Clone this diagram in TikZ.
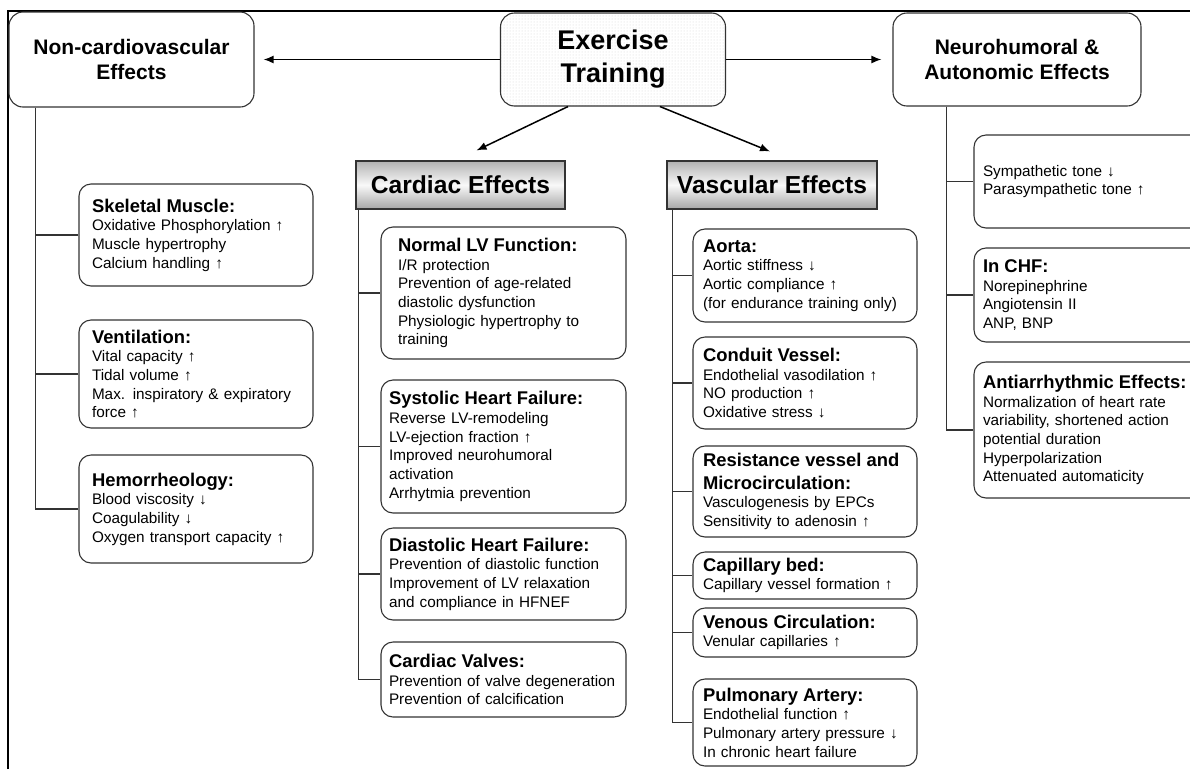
\documentclass[tikz,border=0pt]{standalone}
\usepackage{fontspec}
\setmainfont{Liberation Sans}
\usetikzlibrary{arrows.meta,patterns}

\newcommand{\boxhead}[1]{{\fontsize{18.4}{20}\selectfont\bfseries #1}}

\tikzset{
  effect/.style={draw=black!80, line width=1.1pt, rounded corners=12pt, align=left,
    font=\fontsize{15.3}{18.7}\selectfont, inner ysep=2pt},
  leftbox/.style={effect, text width=208pt, inner xsep=13pt},
  cardbox/.style={effect, text width=229pt, inner xsep=8pt},
  vascbox/.style={effect, text width=204pt, inner xsep=10pt},
  neurobox/.style={effect, text width=210pt, inner xsep=9pt},
  topbox/.style={draw=black!80, line width=1.1pt, rounded corners=14pt, align=center,
    font=\fontsize{21}{25}\selectfont\bfseries},
  headbox/.style={draw=black!80, line width=1.1pt, top color=gray!60, bottom color=gray!70,
    middle color=gray!5, font=\fontsize{24.6}{28}\selectfont\bfseries},
  link/.style={black!80, line width=1.1pt},
  arr/.style={black, line width=1.5pt, -{Latex[length=10pt,width=8pt]}}
}

\begin{document}
\begin{tikzpicture}[x=1pt,y=-1pt]
  \useasboundingbox (0,0) rectangle (1190,769);
  \clip (0,0) rectangle (1190,769);
  \draw[line width=1.5pt] (8,769) -- (8,11) -- (1190,11);

  % top row
  \node[topbox, pattern=dots, pattern color=gray!35, font=\fontsize{27}{33}\selectfont\bfseries,
    minimum width=225pt, minimum height=93pt] (ex) at (613,59.5) {Exercise\\Training};
  \node[topbox, minimum width=245pt, minimum height=95pt] (noncv) at (131.5,59.5) {Non-cardiovascular\\Effects};
  \node[topbox, minimum width=248pt, minimum height=93pt] (neuro) at (1017,59.5) {Neurohumoral \&\\Autonomic Effects};

  \node[headbox, minimum width=209pt, minimum height=48pt] (card) at (460.5,185) {Cardiac Effects};
  \node[headbox, minimum width=210pt, minimum height=48pt] (vasc) at (772,185) {Vascular Effects};

  \draw[arr] (ex.west) -- ([xshift=9pt]noncv.east);
  \draw[arr] (ex.east) -- ([xshift=-11pt]neuro.west);
  \draw[arr] ([xshift=-45pt]ex.south) -- ([xshift=16pt,yshift=10pt]card.north);
  \draw[arr] ([xshift=47pt]ex.south) -- ([xshift=-2pt,yshift=9pt]vasc.north);

  % non-cardiovascular
  \node[leftbox, minimum height=102pt] (skel) at (196,235)
    {\boxhead{Skeletal Muscle:}\\Oxidative Phosphorylation ↑\\Muscle hypertrophy\\Calcium handling ↑};
  \node[leftbox, minimum height=108pt] (vent) at (196,374)
    {\boxhead{Ventilation:}\\Vital capacity ↑\\Tidal volume ↑\\Max. inspiratory \& expiratory\\force ↑};
  \node[leftbox, minimum height=108pt] (hemo) at (196,509)
    {\boxhead{Hemorrheology:}\\Blood viscosity ↓\\Coagulability ↓\\Oxygen transport capacity ↑};

  % cardiac
  \node[cardbox, text width=211pt, inner xsep=17pt, minimum height=132pt] (normlv) at (503.5,293)
    {\boxhead{Normal LV Function:}\\I/R protection\\Prevention of age-related\\diastolic dysfunction\\Physiologic hypertrophy to\\training};
  \node[cardbox, minimum height=133pt] (syst) at (503.5,446.5)
    {\boxhead{Systolic Heart Failure:}\\Reverse LV-remodeling\\LV-ejection fraction ↑\\Improved neurohumoral\\activation\\Arrhytmia prevention};
  \node[cardbox, minimum height=92pt] (diast) at (503.5,574)
    {\boxhead{Diastolic Heart Failure:}\\Prevention of diastolic function\\Improvement of LV relaxation\\and compliance in HFNEF};
  \node[cardbox, minimum height=75pt] (valves) at (503.5,679.5)
    {\boxhead{Cardiac Valves:}\\Prevention of valve degeneration\\Prevention of calcification};

  % vascular
  \node[vascbox, minimum height=93pt] (aorta) at (805,275.5)
    {\boxhead{Aorta:}\\Aortic stiffness ↓\\Aortic compliance ↑\\(for endurance training only)};
  \node[vascbox, minimum height=92pt] (conduit) at (805,383)
    {\boxhead{Conduit Vessel:}\\Endothelial vasodilation ↑\\NO production ↑\\Oxidative stress ↓};
  \node[vascbox, minimum height=91pt] (resist) at (805,491.5)
    {\boxhead{Resistance vessel and}\\[4pt]\boxhead{Microcirculation:}\\Vasculogenesis by EPCs\\Sensitivity to adenosin ↑};
  \node[vascbox, minimum height=47pt] (capil) at (805,575.5)
    {\boxhead{Capillary bed:}\\Capillary vessel formation ↑};
  \node[vascbox, minimum height=49pt] (venous) at (805,632.5)
    {\boxhead{Venous Circulation:}\\Venular capillaries ↑};
  \node[vascbox, minimum height=87pt] (pulm) at (805,722.5)
    {\boxhead{Pulmonary Artery:}\\Endothelial function ↑\\Pulmonary artery pressure ↓\\In chronic heart failure};

  % neurohumoral
  \node[neurobox, minimum height=93pt] (symp) at (1088,181.5)
    {Sympathetic tone ↓\\Parasympathetic tone ↑};
  \node[neurobox, minimum height=94pt] (chf) at (1088,295)
    {\boxhead{In CHF:}\\Norepinephrine\\Angiotensin II\\ANP, BNP};
  \node[neurobox, minimum height=136pt] (antiarr) at (1088,430)
    {\boxhead{Antiarrhythmic Effects:}\\Normalization of heart rate\\variability, shortened action\\potential duration\\Hyperpolarization\\Attenuated automaticity};

  % tree lines
  \foreach \b in {skel,vent,hemo}
    \draw[link] ([xshift=27pt]noncv.south west) |- (\b.west);
  \foreach \b in {normlv,syst,diast,valves}
    \draw[link] ([xshift=3pt]card.south west) |- (\b.west);
  \foreach \b in {aorta,conduit,resist,capil,venous,pulm}
    \draw[link] ([xshift=6pt]vasc.south west) |- (\b.west);
  \foreach \b in {symp,chf,antiarr}
    \draw[link] ([xshift=54pt]neuro.south west) |- (\b.west);
\end{tikzpicture}
\end{document}
